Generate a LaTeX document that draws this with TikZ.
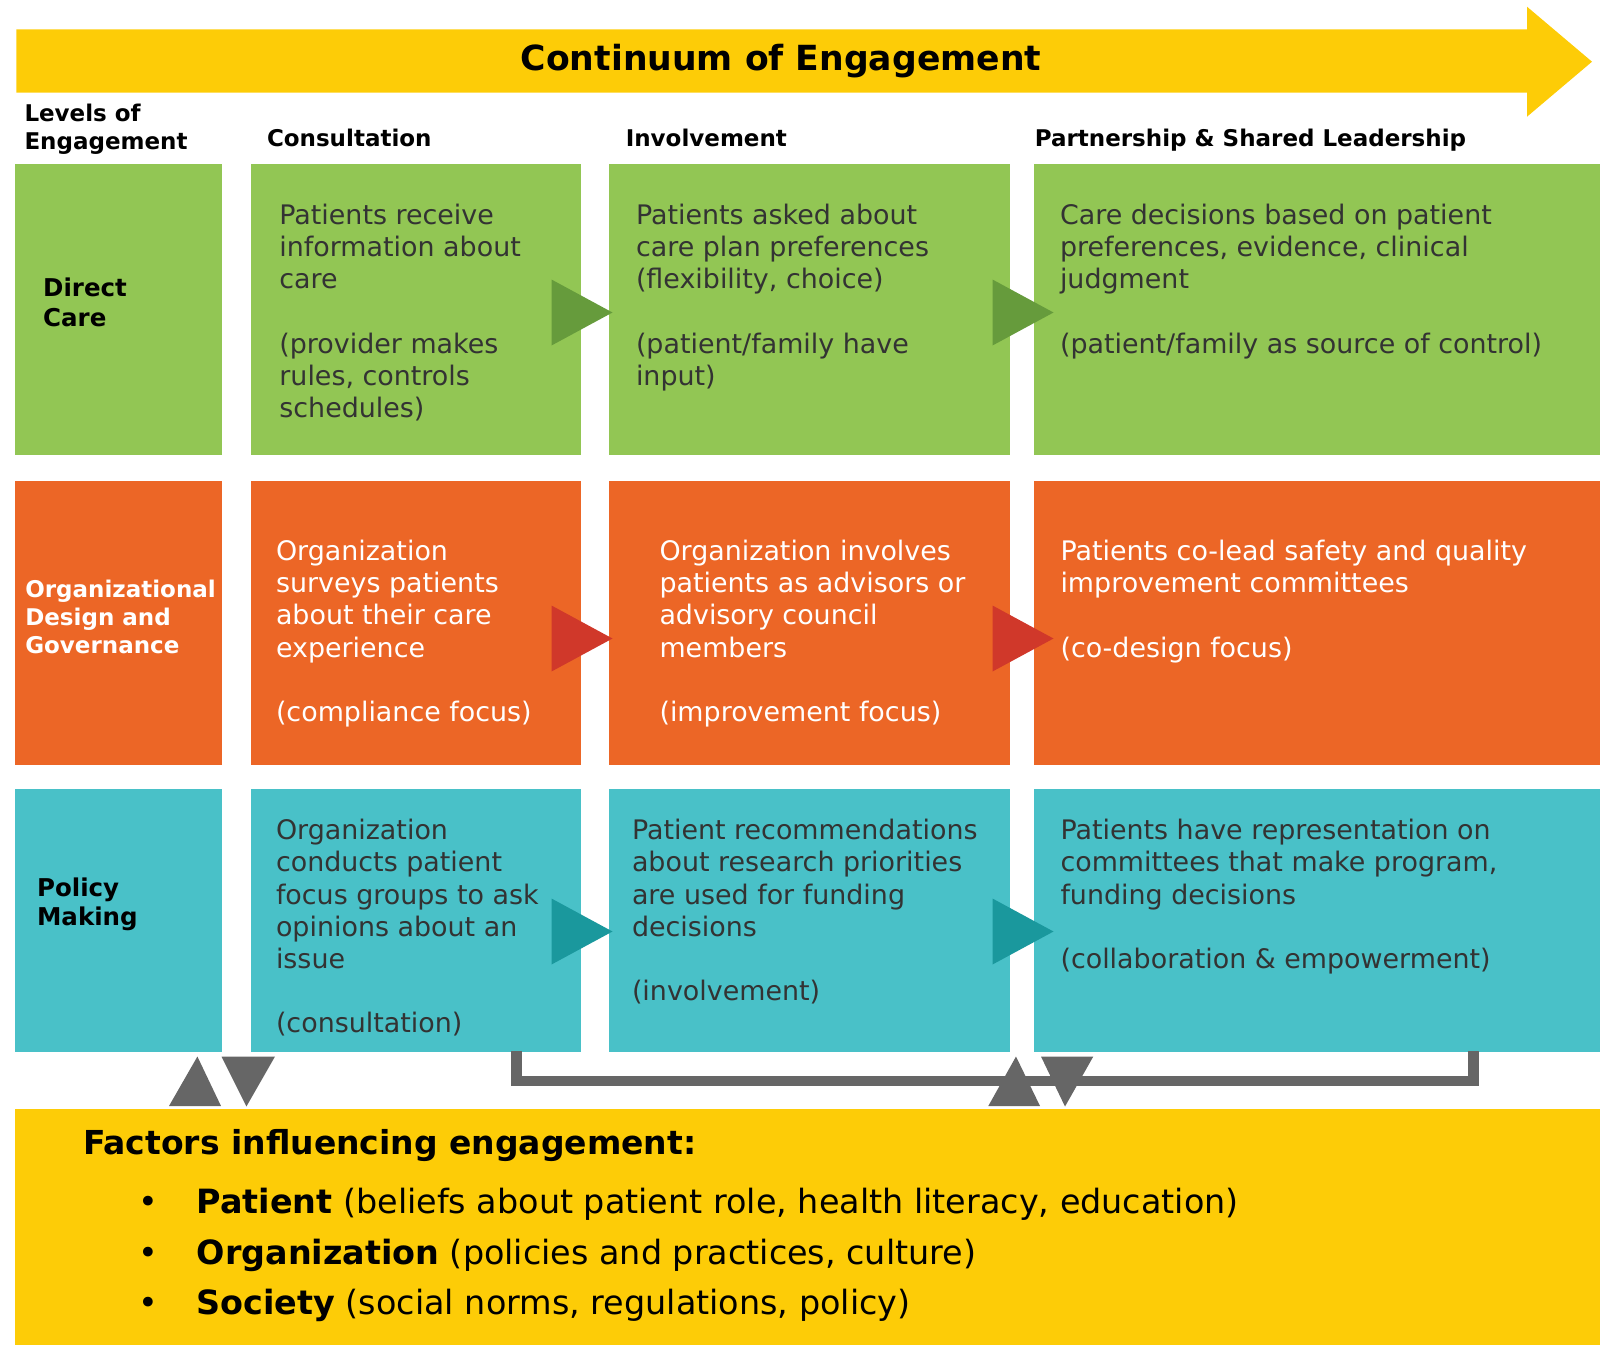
\documentclass[tikz,border=0pt]{standalone}
\usepackage{fontspec}
\setmainfont{DejaVu Sans}
\usetikzlibrary{positioning}

\definecolor{grn}{RGB}{146,198,84}
\definecolor{grnD}{RGB}{102,155,60}
\definecolor{org}{RGB}{236,102,38}
\definecolor{redD}{RGB}{208,56,42}
\definecolor{teal}{RGB}{73,193,200}
\definecolor{tealD}{RGB}{26,152,157}
\definecolor{yel}{RGB}{253,204,7}
\definecolor{gry}{RGB}{102,102,102}
\definecolor{txtc}{RGB}{51,51,51}

\begin{document}
\begin{tikzpicture}[x=1pt, y=-1pt,
		every node/.style = {inner sep=0pt, outer sep=0pt},
		box/.style = {rectangle, draw=none},
		firstbase/.style = {anchor=north west, align=left,
			execute at begin node=\strut, yshift=#1},
		cell/.style = {firstbase=19.5pt, text=txtc,
			font=\fontsize{26.9}{32.2}\selectfont},
		head/.style = {anchor=base west,
			font=\fontsize{23}{27.6}\selectfont\bfseries},
		level/.style = {font=\fontsize{24.5}{30}\selectfont\bfseries}]
	\useasboundingbox (0,0) rectangle (1603,1345);

	% continuum arrow
	\fill[yel] (16.4,29.3) -- (1527,29.3) -- (1527,6.7) -- (1592,61.7)
		-- (1527,116.7) -- (1527,92.7) -- (16.4,92.7) -- cycle;
	\node[anchor=base, font=\fontsize{34.6}{40}\selectfont\bfseries] (title)
		at (781,70) {Continuum of Engagement};

	% column headings
	\node[head, firstbase=16.3pt] (lvl) at (24.5,120.7) {Levels of\\Engagement};
	\node[head] (cons) at (267,146) {Consultation};
	\node[head] (inv) at (625.8,146) {Involvement};
	\node[head] (part) at (1034.8,146) {Partnership \& Shared Leadership};

	% grid of boxes
	\foreach \r/\cy/\h/\col in {1/309.3/291.4/grn, 2/622.6/284.2/org, 3/920.5/263/teal}
		\foreach \c/\cx/\w in {0/118.55/206.5, 1/415.6/330.2, 2/809.65/400.7, 3/1316.8/566.4}
			\node[box, fill=\col, minimum width=\w pt, minimum height=\h pt]
				(b\r\c) at (\cx,\cy) {};

	% arrows between the columns
	\foreach \cy/\col in {312.5/grnD, 638.5/redD, 931.5/tealD}
		\foreach \x in {551.5, 992.5}
			\fill[\col] (\x,\cy-33) -- (\x+61,\cy) -- (\x,\cy+33) -- cycle;

	% levels
	\node[level, firstbase=17pt] (dcare) at (43.2,295) {Direct\\Care};
	\node[level, firstbase=16.8pt, text=white, font=\fontsize{23}{28.3}\selectfont\bfseries]
		(odg) at (25.3,596.7) {Organizational\\Design and\\Governance};
	\node[level, firstbase=17.5pt, font=\fontsize{24.5}{29.3}\selectfont\bfseries]
		(pmak) at (37.1,895) {Policy\\Making};

	% direct care
	\node[cell] (t11) at (279.4,223.3) {Patients receive\\information about\\care\\[32.2pt](provider makes\\rules, controls\\schedules)};
	\node[cell] (t12) at (636,223.3) {Patients asked about\\care plan preferences\\(flexibility, choice)\\[32.2pt](patient/family have\\input)};
	\node[cell] (t13) at (1060,223.3) {Care decisions based on patient\\preferences, evidence, clinical\\judgment\\[32.2pt](patient/family as source of control)};

	% organizational design and governance
	\node[cell, text=white] (t21) at (276,559.5) {Organization\\surveys patients\\about their care\\experience\\[32.2pt](compliance focus)};
	\node[cell, text=white] (t22) at (659.5,559.5) {Organization involves\\patients as advisors or\\advisory council\\members\\[32.2pt](improvement focus)};
	\node[cell, text=white] (t23) at (1060.5,559.5) {Patients co-lead safety and quality\\improvement committees\\[32.2pt](co-design focus)};

	% policy making
	\node[cell] (t31) at (276,838.7) {Organization\\conducts patient\\focus groups to ask\\opinions about an\\issue\\[32.2pt](consultation)};
	\node[cell] (t32) at (632,838.7) {Patient recommendations\\about research priorities\\are used for funding\\decisions\\[32.2pt](involvement)};
	\node[cell] (t33) at (1060.5,838.7) {Patients have representation on\\committees that make program,\\funding decisions\\[32.2pt](collaboration \& empowerment)};

	% factors box
	\node[box, fill=yel, minimum width=1584.7pt, minimum height=236pt] (fbox) at (807.65,1227.2) {};
	\coordinate (brA) at (516.3,1051);
	\coordinate (brB) at (1473.3,1051);
	\draw[gry, line width=10.5pt] (brA) |- (1473.3,1081) -- (brB);
	\fill[gry] (169,1106) -- (197.4,1056.5) -- (221,1106) -- cycle;
	\fill[gry] (221.5,1056.5) -- (275,1056.5) -- (246.4,1106.5) -- cycle;
	\fill[gry] (988.3,1106) -- (1016,1056.5) -- (1040,1106) -- cycle;
	\fill[gry] (1041,1056.5) -- (1093.3,1056.5) -- (1065,1106.5) -- cycle;

	\node[anchor=base west, font=\fontsize{33}{38}\selectfont\bfseries] (fac)
		at (83,1154) {Factors influencing engagement:};
	\foreach \n/\b/\t/\y in {pat/Patient/{(beliefs about patient role, health literacy, education)}/1213.5,
			orgz/Organization/{(policies and practices, culture)}/1264.8,
			soc/Society/{(social norms, regulations, policy)}/1314.5} {
		\node[anchor=base, font=\fontsize{33.4}{38}\selectfont] (dot\n) at (148.3,\y) {•};
		\node[anchor=base west, font=\fontsize{33.4}{38}\selectfont] (\n) at (196.7,\y) {\textbf{\b} \t};
	}
\end{tikzpicture}
\end{document}
